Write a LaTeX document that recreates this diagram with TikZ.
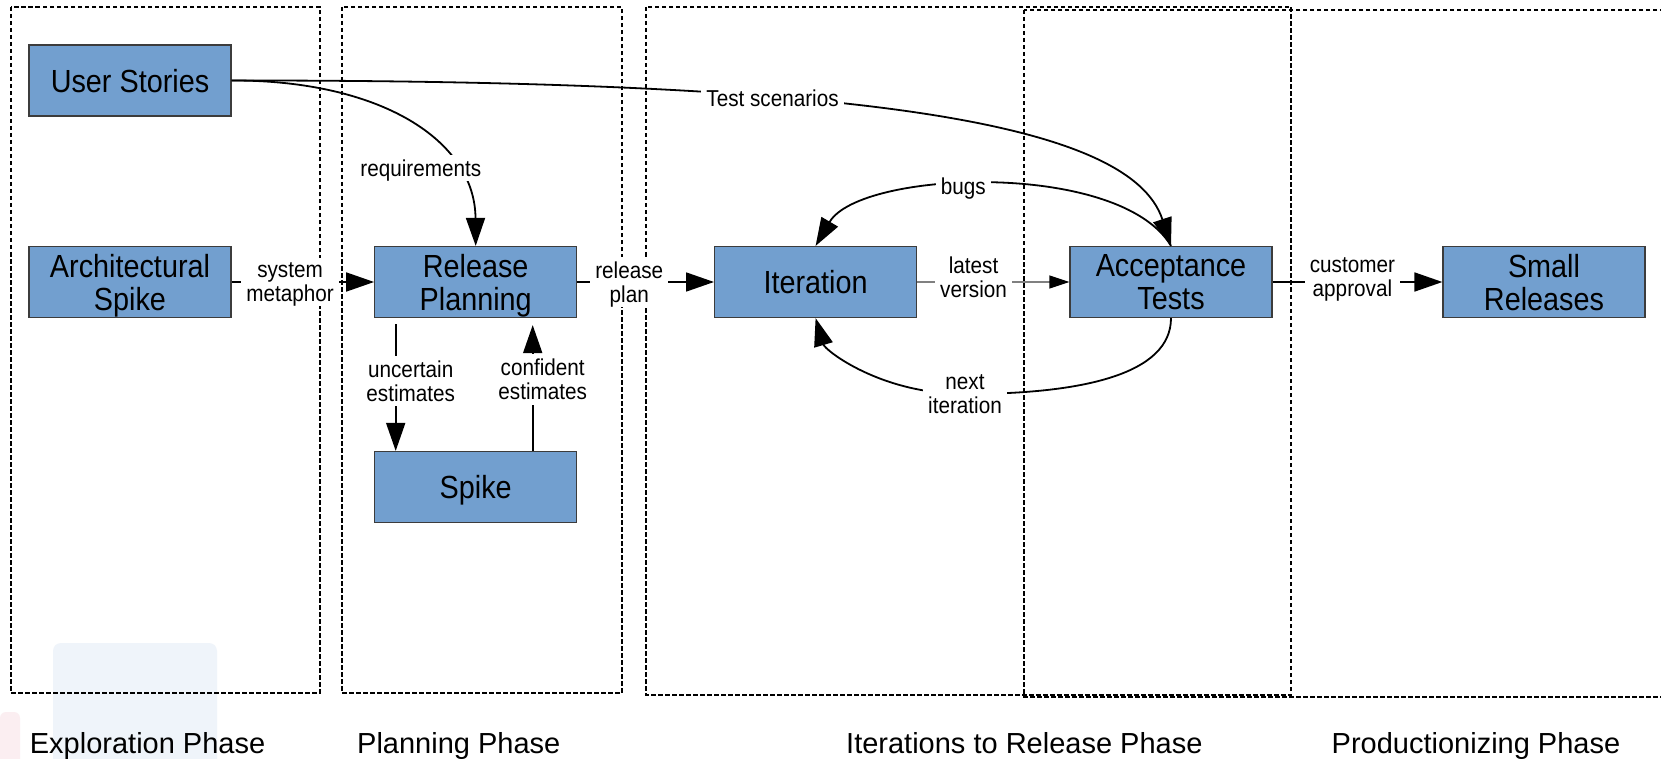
\documentclass[tikz,border=0pt]{standalone}
\usepackage{fontspec}
\setmainfont{Liberation Sans}
\newfontfamily\narrowsans[FakeStretch=0.9]{Liberation Sans}
\usetikzlibrary{arrows.meta}
\definecolor{boxblue}{HTML}{729FCF}
\definecolor{boxedge}{HTML}{3C3C3C}
\definecolor{hazeblue}{HTML}{EFF4FA}
\definecolor{hazepink}{HTML}{FBEEF1}
\begin{document}
\begin{tikzpicture}[x=1pt,y=-1pt,
  stage/.style={draw=boxedge, line width=1.2pt, fill=boxblue, minimum width=202pt,
    minimum height=71pt, inner sep=0pt, align=center, text depth=0pt,
    font=\narrowsans\fontsize{32}{33}\selectfont},
  phase/.style={draw=black, line width=2pt, dash pattern=on 4.5pt off 2.5pt},
  phasename/.style={anchor=base west, inner sep=0pt, font=\fontsize{29}{34}\selectfont},
  flow/.style={draw=black, line width=1.8pt, -{Triangle[length=28pt,width=19pt]}},
  thin flow/.style={draw=gray, line width=1.2pt, -{Triangle[length=20pt,width=13pt,color=black]}},
  lbl/.style={fill=white, inner sep=5pt, align=center, text depth=0pt,
    font=\narrowsans\fontsize{23}{24}\selectfont}
]
\useasboundingbox (0,0) rectangle (1661,759);
\clip (0,0) rectangle (1661,759);
\fill[white] (0,0) rectangle (1661,759);

% faint background patches
\fill[hazeblue] (53,643) [rounded corners=8pt] rectangle (217,770);
\fill[hazepink] (0,712) [rounded corners=6pt] rectangle (20,770);

% phase frames
\draw[phase] (11,7) rectangle (319.5,693);
\draw[phase] (342,7) rectangle (621.5,693);
\draw[phase] (646,7) rectangle (1291,695);
\draw[phase] (1024,10) rectangle (1700,697);

% stages
\node[stage] (us) at (130,80.5) {User Stories};
\node[stage] (as) at (130,282) {Architectural\\Spike};
\node[stage] (rp) at (475.7,282) {Release\\Planning};
\node[stage] (sp) at (475.7,487) {Spike};
\node[stage] (it) at (815.6,282) {Iteration};
\node[stage] (at) at (1171,282) {Acceptance\\Tests};
\node[stage] (sr) at (1544,282) {Small\\Releases};

% connectors
\draw[flow] (us.east) .. controls (850,80) and (1130,120) ..
  node[lbl,pos=0.36] {Test scenarios} (at.north);
\draw[flow] (us.east) .. controls (380,80) and (475,140) ..
  node[lbl,pos=0.72,xshift=-33pt] {requirements} (rp.north);
\draw[flow] (as.east) -- node[lbl,pos=0.41] {system\\metaphor} (rp.west);
\draw[flow] (rp.east) -- node[lbl,pos=0.38] {release\\plan} (it.west);
\draw[flow] ([xshift=-80pt,yshift=-6pt]rp.south) --
  node[lbl,pos=0.45,xshift=15pt] {uncertain\\estimates} ([xshift=-80pt]sp.north);
\draw[flow] ([xshift=57pt]sp.north) --
  node[lbl,pos=0.57,xshift=10pt] {confident\\estimates} ([xshift=57pt,yshift=-7pt]rp.south);
\draw[thin flow] (it.east) -- node[lbl,pos=0.37,yshift=5pt] {latest\\version} (at.west);
\draw[flow] (at.east) -- node[lbl,pos=0.47,yshift=5pt] {customer\\approval} (sr.west);
\draw[flow] (at.north) .. controls (1120,160) and (860,170) ..
  node[lbl,pos=0.56] {bugs} (it.north);
\draw[flow] (at.south) .. controls (1171,375) and (1080,394) .. (965,394)
  node[lbl] {next\\iteration}
  .. controls (880,394) and (825,350) .. (it.south);

% phase names
\node[phasename] (pn1) at (29.7,753.5) {Exploration Phase};
\node[phasename] (pn2) at (357,753.5) {Planning Phase};
\node[phasename] (pn3) at (846,753.5) {Iterations to Release Phase};
\node[phasename] (pn4) at (1331.5,753.5) {Productionizing Phase};
\end{tikzpicture}
\end{document}
